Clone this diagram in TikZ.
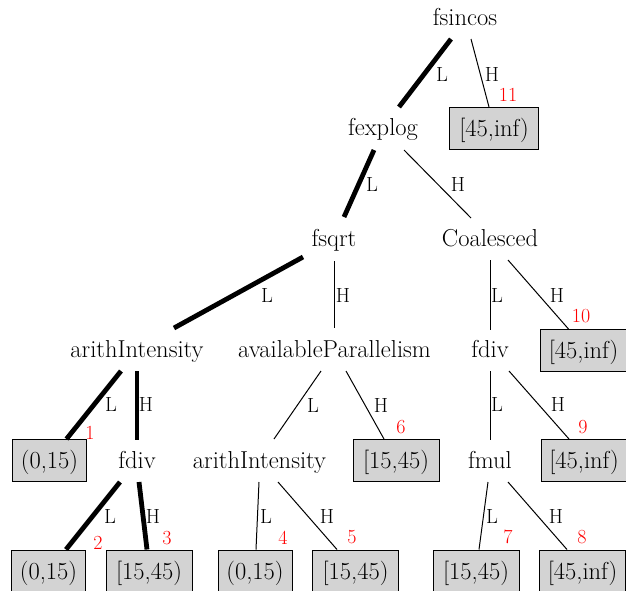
\documentclass[tikz,border=0pt]{standalone}
\definecolor{boxgray}{HTML}{D3D3D3}
\begin{document}
\begin{tikzpicture}[x=1pt,y=-1pt,
  lbl/.style={inner xsep=0pt, inner ysep=10.5pt, font=\rmfamily\fontsize{24.5}{28}\selectfont, text height=17.5pt, text depth=3.5pt},
  leaf/.style={draw=black, line width=1pt, fill=boxgray, minimum width=74pt, inner xsep=4pt, inner ysep=10pt, font=\rmfamily\fontsize{24.5}{28}\selectfont, text height=19pt, text depth=3pt},
  wide/.style={minimum width=86pt},
  elab/.style={inner sep=0pt, font=\rmfamily\fontsize{20.5}{24}\selectfont},
  rnum/.style={inner sep=0pt, text=red, font=\rmfamily\fontsize{20}{24}\selectfont},
  thickedge/.style={line width=4.8pt},
  thinedge/.style={line width=1pt}]
\useasboundingbox (0,0) rectangle (626,590);
% nodes
\node[lbl] (fsincos) at (465,18) {fsincos};
\node[lbl] (fexplog) at (383,128) {fexplog};
\node[leaf,wide,minimum width=89pt] (b11) at (494,128.5) {[45,inf)};
\node[lbl] (fsqrt) at (334,239) {fsqrt};
\node[lbl] (coal) at (490,239) {Coalesced};
\node[lbl] (ai1) at (137,350) {arithIntensity};
\node[lbl] (ap) at (334.5,350) {availableParallelism};
\node[lbl] (fdivR) at (490,350) {fdiv};
\node[leaf,wide] (b10) at (583.5,350.5) {[45,inf)};
\node[leaf] (b1) at (49.5,460.5) {(0,15)};
\node[lbl] (fdivL) at (137,461) {fdiv};
\node[lbl] (ai2) at (259.5,461) {arithIntensity};
\node[leaf,wide] (b6) at (396,460.5) {[15,45)};
\node[lbl] (fmul) at (490,461) {fmul};
\node[leaf,wide] (b9) at (584,460.5) {[45,inf)};
\node[leaf] (b2) at (48.5,571) {(0,15)};
\node[leaf,wide] (b3) at (149,571) {[15,45)};
\node[leaf] (b4) at (255,571) {(0,15)};
\node[leaf,wide] (b5) at (355.5,571) {[15,45)};
\node[leaf,wide] (b7) at (476,571) {[15,45)};
\node[leaf,wide] (b8) at (582.5,571) {[45,inf)};
% edges
\draw[thickedge] ([shift={(-14,21)}]fsincos.center) -- ([shift={(16,-21)}]fexplog.center);
\draw[thinedge] ([shift={(6,21)}]fsincos.center) -- ([xshift=-5pt]b11.north);
\draw[thickedge] ([shift={(-9,22)}]fexplog.center) -- ([shift={(10,-22)}]fsqrt.center);
\draw[thinedge] ([shift={(21,22)}]fexplog.center) -- ([shift={(-19,-21)}]coal.center);
\draw[thickedge] ([shift={(-31,18)}]fsqrt.center) -- ([shift={(37,-22)}]ai1.center);
\draw[thinedge] ([shift={(0,22)}]fsqrt.center) -- ([shift={(-0.5,-22)}]ap.center);
\draw[thinedge] ([shift={(0,21)}]coal.center) -- ([shift={(0,-20)}]fdivR.center);
\draw[thinedge] ([shift={(18,21)}]coal.center) -- ([xshift=-15pt]b10.north);
\draw[thickedge] ([shift={(-16,21)}]ai1.center) -- ([xshift=17pt]b1.north);
\draw[thickedge] ([shift={(0,21)}]ai1.center) -- ([shift={(0,-21)}]fdivL.center);
\draw[thinedge] ([shift={(-13.5,21)}]ap.center) -- ([shift={(14.5,-22)}]ai2.center);
\draw[thinedge] ([shift={(11.5,21)}]ap.center) -- ([xshift=-12pt]b6.north);
\draw[thinedge] ([shift={(0,21)}]fdivR.center) -- ([shift={(0,-21)}]fmul.center);
\draw[thinedge] ([shift={(19,21)}]fdivR.center) -- ([xshift=-15pt]b9.north);
\draw[thickedge] ([shift={(-17,21)}]fdivL.center) -- ([xshift=17.5pt]b2.north);
\draw[thickedge] ([shift={(2,21)}]fdivL.center) -- ([xshift=-2pt]b3.north);
\draw[thinedge] ([shift={(-0.5,21)}]ai2.center) -- ([xshift=1pt]b4.north);
\draw[thinedge] ([shift={(18.5,21)}]ai2.center) -- ([xshift=-18.5pt]b5.north);
\draw[thinedge] ([shift={(-2,21)}]fmul.center) -- ([xshift=3pt]b7.north);
\draw[thinedge] ([shift={(18,21)}]fmul.center) -- ([xshift=-15.5pt]b8.north);
% edge labels
\node[elab] (l1) at (442,74) {L};
\node[elab] (h2) at (492,74) {H};
\node[elab] (l3) at (372,184) {L};
\node[elab] (h4) at (458,184) {H};
\node[elab] (l5) at (267,295) {L};
\node[elab] (h6) at (343,295) {H};
\node[elab] (l7) at (497,295) {L};
\node[elab] (h8) at (557,295) {H};
\node[elab] (l9) at (111,404) {L};
\node[elab] (h10) at (146,404) {H};
\node[elab] (l11) at (313,405) {L};
\node[elab] (h12) at (381,405) {H};
\node[elab] (l13) at (497,404) {L};
\node[elab] (h14) at (558,404) {H};
\node[elab] (l15) at (110,516) {L};
\node[elab] (h16) at (153,516) {H};
\node[elab] (l17) at (266,516) {L};
\node[elab] (h18) at (327,516) {H};
\node[elab] (l19) at (492,516) {L};
\node[elab] (h20) at (556,516) {H};
% red numbers
\node[rnum] (n11) at (508,95) {11};
\node[rnum] (n10) at (581,316) {10};
\node[rnum] (n1) at (90,433) {1};
\node[rnum] (n6) at (401,427) {6};
\node[rnum] (n9) at (583,427) {9};
\node[rnum] (n2) at (98,543) {2};
\node[rnum] (n3) at (167,538) {3};
\node[rnum] (n4) at (283,538) {4};
\node[rnum] (n5) at (352,537) {5};
\node[rnum] (n7) at (508,537) {7};
\node[rnum] (n8) at (582,537) {8};
\end{tikzpicture}
\end{document}
